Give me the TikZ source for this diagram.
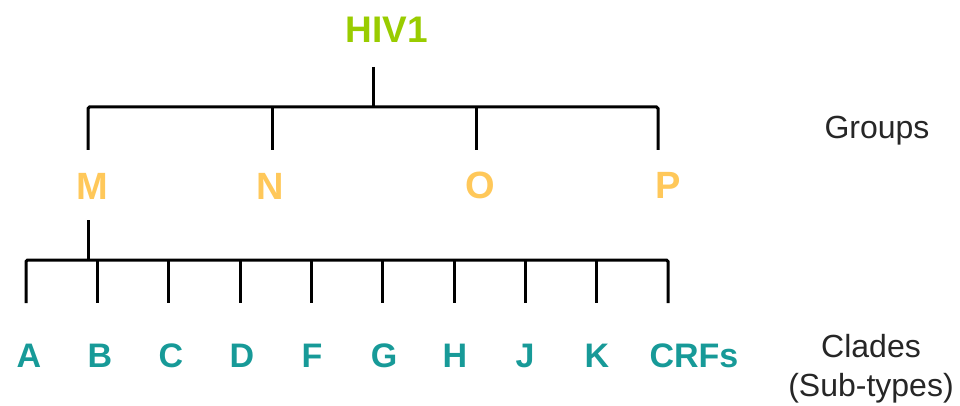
\documentclass[tikz,border=0pt]{standalone}
\usepackage{fontspec}
\setmainfont{Liberation Sans}
\definecolor{hivgreen}{HTML}{99CC00}
\definecolor{grouporange}{HTML}{FFC85A}
\definecolor{cladeteal}{HTML}{179A98}
\begin{document}
\begin{tikzpicture}[x=1pt,y=-1pt,
  lbl/.style={inner sep=0pt,anchor=base},
  top/.style={lbl,font=\fontsize{37}{40}\selectfont\bfseries,text=hivgreen},
  grp/.style={lbl,font=\fontsize{38}{40}\selectfont\bfseries,text=grouporange},
  cld/.style={lbl,font=\fontsize{34}{40}\selectfont\bfseries,text=cladeteal},
  side/.style={inner sep=0pt,font=\fontsize{32}{39}\selectfont,text=black!85,align=center},
  tree/.style={line width=3pt,black,rounded corners=1.5pt}]
\useasboundingbox (0,0) rectangle (960,406);
% titles
\node[top] (hiv) at (387,43) {HIV1};
\node[grp] (M) at (92,199) {M};
\node[grp] (N) at (270,199) {N};
\node[grp] (O) at (480,198) {O};
\node[grp] (P) at (668,198) {P};
\node[side,anchor=base] (groups) at (877,139) {Groups};
\node[side,anchor=base] (clades) at (871,396) {Clades\\(Sub-types)};
% clades
\foreach \n/\t/\x in {A/A/29,B/B/100,C/C/171,D/D/242,F/F/312,G/G/384,H/H/455,J/J/525,K/K/597,CRF/CRFs/694}
  \node[cld] (\n) at (\x,367) {\t};
% junction coordinates
\coordinate (hivstem) at (373,67);
\coordinate (hivbar) at (373,107);
\foreach \n/\x in {M/88,N/272,O/476,P/658}{
  \coordinate (\n-top) at (\x,107);
  \coordinate (\n-end) at (\x,150);
}
\coordinate (Mstem) at (88,220);
\coordinate (Mbar) at (88,260);
\foreach \n/\x in {A/26,B/97.3,C/168.7,D/240,F/311.3,G/382.7,H/454,J/525.3,K/596.7,CRF/668}{
  \coordinate (\n-top) at (\x,260);
  \coordinate (\n-end) at (\x,303);
}
% tree lines
\draw[tree] (hivstem) -- (hivbar);
\draw[tree] (M-end) -- (M-top) -- (P-top) -- (P-end);
\draw[tree] (N-top) -- (N-end);
\draw[tree] (O-top) -- (O-end);
\draw[tree] (Mstem) -- (Mbar);
\draw[tree] (A-end) -- (A-top) -- (CRF-top) -- (CRF-end);
\foreach \n in {B,C,D,F,G,H,J,K}
  \draw[tree] (\n-top) -- (\n-end);
\end{tikzpicture}
\end{document}
